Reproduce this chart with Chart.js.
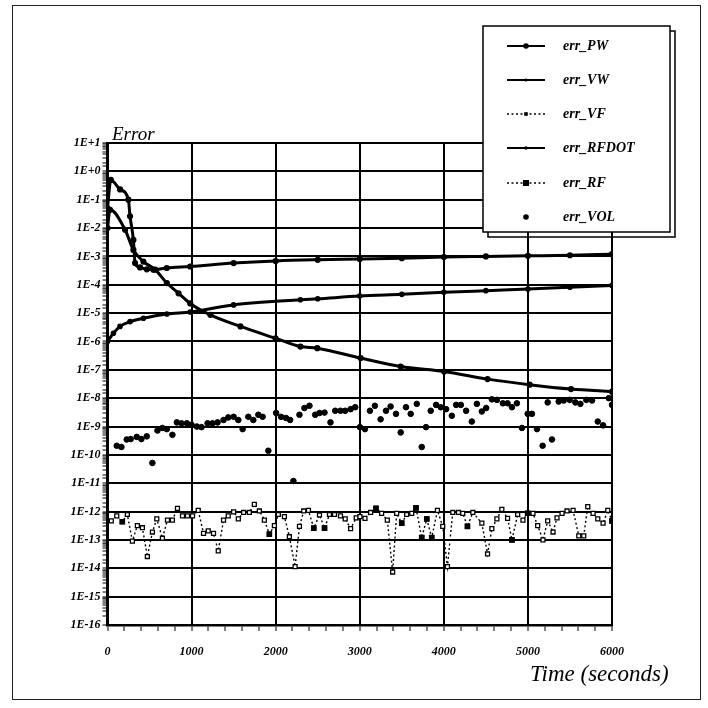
<!DOCTYPE html>
<html>
<head>
<meta charset="utf-8">
<script src="https://cdn.jsdelivr.net/npm/chart.js@4.4.0/dist/chart.umd.min.js"></script>
<style>
  html, body { margin: 0; padding: 0; background: #fff; }
  canvas { display: block; }
</style>
</head>
<body>
<canvas id="err-chart" width="708" height="708"></canvas>
<script>
// position error in the wall frame
const pwTime = [0, 40, 150, 248, 268, 308, 328, 387, 467, 546, 705, 983, 1500, 2000, 2500, 3000, 3500, 4000, 4500, 5000, 5500, 6000];
const pwErr = [5e-2, 0.5, 0.23, 0.1, 2.6e-2, 3.8e-3, 5.8e-4, 4.1e-4, 3.5e-4, 3.4e-4, 3.9e-4, 4.4e-4, 5.8e-4, 6.9e-4, 7.6e-4, 8.1e-4, 8.7e-4, 9.5e-4, 1.0e-3, 1.05e-3, 1.1e-3, 1.2e-3];

// velocity error in the wall frame
const vwTime = [0, 70, 149, 268, 427, 706, 984, 1500, 2294, 2500, 3000, 3500, 4000, 4500, 5000, 5500, 6000];
const vwErr = [1.0e-6, 1.95e-6, 3.4e-6, 5.0e-6, 6.6e-6, 9.3e-6, 1.1e-5, 1.95e-5, 2.95e-5, 3.2e-5, 4.0e-5, 4.6e-5, 5.4e-5, 6.2e-5, 7.1e-5, 8.2e-5, 9.5e-5];

// RF rate error
const rfdotTime = [0, 30, 209, 308, 427, 567, 706, 845, 984, 1223, 1581, 1998, 2294, 2495, 3010, 3487, 4003, 4520, 5020, 5513, 6000];
const rfdotErr = [1e-2, 4.4e-2, 8.7e-3, 1.7e-3, 6.6e-4, 3.4e-4, 1.15e-4, 5.0e-5, 2.2e-5, 8.7e-6, 3.4e-6, 1.3e-6, 6.6e-7, 5.8e-7, 2.6e-7, 1.3e-7, 8.7e-8, 4.7e-8, 3.0e-8, 2.1e-8, 1.7e-8];

// volume error samples
const volTime = [
  110, 165, 229, 276, 348, 403, 467, 534, 594, 653,
  705, 772, 825, 880, 944, 999, 1063, 1118, 1190, 1249,
  1309, 1380, 1436, 1500, 1556, 1607, 1675, 1734, 1794, 1845,
  1913, 2005, 2064, 2124, 2172, 2211, 2283, 2342, 2402, 2470,
  2521, 2581, 2652, 2708, 2771, 2827, 2891, 2946, 3002, 3062,
  3121, 3180, 3248, 3312, 3367, 3431, 3487, 3550, 3606, 3678,
  3737, 3788, 3844, 3908, 3963, 4027, 4095, 4146, 4202, 4265,
  4333, 4393, 4452, 4504, 4571, 4631, 4702, 4758, 4810, 4869,
  4929, 4997, 5048, 5108, 5175, 5235, 5286, 5366, 5426, 5497,
  5564, 5624, 5695, 5763, 5831, 5894, 5962, 6000
];
const volErr = [
  2.1e-10, 1.9e-10, 3.5e-10, 3.6e-10, 4.3e-10, 3.6e-10, 4.5e-10, 5.2e-11, 7.2e-10, 8.9e-10,
  8.1e-10, 5.1e-10, 1.4e-9, 1.3e-9, 1.3e-9, 1.15e-9, 1.0e-9, 9.5e-10, 1.3e-9, 1.3e-9,
  1.4e-9, 1.7e-9, 2.1e-9, 2.2e-9, 1.7e-9, 8.1e-10, 2.2e-9, 1.7e-9, 2.6e-9, 2.2e-9,
  1.4e-10, 3.0e-9, 2.2e-9, 2.0e-9, 1.7e-9, 1.2e-11, 2.6e-9, 4.5e-9, 5.4e-9, 2.6e-9,
  3.0e-9, 3.1e-9, 1.4e-9, 3.6e-9, 3.6e-9, 3.6e-9, 4.1e-9, 4.8e-9, 9.5e-10, 8.1e-10,
  3.6e-9, 5.4e-9, 1.8e-9, 3.6e-9, 5.1e-9, 2.8e-9, 6.2e-10, 4.8e-9, 2.8e-9, 6.3e-9,
  1.9e-10, 9.5e-10, 3.6e-9, 5.8e-9, 4.8e-9, 4.1e-9, 2.4e-9, 5.8e-9, 5.8e-9, 3.6e-9,
  1.5e-9, 6.3e-9, 3.4e-9, 4.5e-9, 9.1e-9, 8.7e-9, 6.6e-9, 6.6e-9, 4.8e-9, 6.6e-9,
  8.9e-10, 2.8e-9, 2.8e-9, 8.1e-10, 2.1e-10, 7.1e-9, 3.5e-10, 7.6e-9, 8.3e-9, 8.7e-9,
  7.1e-9, 6.3e-9, 8.7e-9, 8.3e-9, 1.5e-9, 1.1e-9, 1.0e-8, 5.8e-9
];

// fluid velocity error samples
const vfTime = [
  45, 110, 176, 236, 296, 355, 415, 474, 534, 586,
  653, 713, 772, 832, 892, 951, 1011, 1079, 1142, 1198,
  1261, 1317, 1380, 1436, 1500, 1556, 1619, 1687, 1746, 1806,
  1866, 1925, 1985, 2032, 2104, 2163, 2231, 2283, 2334, 2390,
  2453, 2521, 2581, 2640, 2700, 2771, 2827, 2891, 2958, 3002,
  3062, 3129, 3193, 3260, 3328, 3391, 3439, 3499, 3558, 3618,
  3669, 3737, 3797, 3856, 3924, 3987, 4043, 4106, 4174, 4225,
  4281, 4345, 4452, 4520, 4571, 4631, 4690, 4758, 4810, 4878,
  4941, 4997, 5060, 5116, 5179, 5235, 5299, 5346, 5406, 5465,
  5537, 5605, 5664, 5712, 5775, 5831, 5894, 5950, 6000
];
const vfErr = [
  4.7e-13, 7.1e-13, 4.4e-13, 7.9e-13, 9.1e-14, 3.2e-13, 2.7e-13, 2.6e-14, 1.9e-13, 5.5e-13,
  1.15e-13, 5.0e-13, 5.0e-13, 1.3e-12, 7.1e-13, 7.1e-13, 7.1e-13, 1.1e-12, 1.7e-13, 2.1e-13,
  1.7e-13, 4.1e-14, 5.0e-13, 7.1e-13, 9.8e-13, 5.5e-13, 9.3e-13, 9.3e-13, 1.8e-12, 1.05e-12,
  5.0e-13, 1.6e-13, 3.2e-13, 7.9e-13, 6.6e-13, 1.3e-13, 1.15e-14, 3.0e-13, 1.05e-12, 1.1e-12,
  2.6e-13, 7.6e-13, 2.6e-13, 7.9e-13, 7.9e-13, 7.1e-13, 5.5e-13, 2.5e-13, 6.0e-13, 6.6e-13,
  5.8e-13, 9.3e-13, 1.3e-12, 8.7e-13, 5.0e-13, 7.4e-15, 8.7e-13, 3.9e-13, 7.9e-13, 8.7e-13,
  1.35e-12, 1.2e-13, 5.5e-13, 1.2e-13, 1.1e-12, 3.0e-13, 1.15e-14, 9.3e-13, 9.3e-13, 8.7e-13,
  3.0e-13, 9.3e-13, 3.9e-13, 3.2e-14, 2.5e-13, 5.5e-13, 1.2e-12, 5.8e-13, 1.0e-13, 7.9e-13,
  5.0e-13, 8.7e-13, 8.7e-13, 3.2e-13, 1.0e-13, 4.7e-13, 1.9e-13, 6.0e-13, 8.7e-13, 1.05e-12,
  1.1e-12, 1.4e-13, 1.4e-13, 1.5e-12, 8.7e-13, 5.5e-13, 3.9e-13, 1.1e-12, 4.7e-13
];

// fluid position error samples
const rfTime = [176, 1925, 2453, 2581, 3193, 3499, 3669, 3737, 3797, 3856, 4281, 4810, 4997, 6000];
const rfErr = [4.4e-13, 1.6e-13, 2.6e-13, 2.6e-13, 1.3e-12, 3.9e-13, 1.35e-12, 1.2e-13, 5.5e-13, 1.2e-13, 3.0e-13, 1.0e-13, 8.7e-13, 4.7e-13];

const xTicks = [0, 1000, 2000, 3000, 4000, 5000, 6000];

const tickFont = { family: 'Liberation Serif', style: 'italic', weight: 'bold', size: 12 };

function pairs(ts, vs) {
    return ts.map((t, i) => ({ x: t, y: vs[i] }));
}

function isDecade(v) {
    const e = Math.log10(v);
    return Math.abs(e - Math.round(e)) < 1e-6;
}

const series = {
    PW: { label: 'err_PW', data: pairs(pwTime, pwErr), borderColor: '#000', backgroundColor: '#000',
          borderWidth: 3, pointRadius: 1.6, cubicInterpolationMode: 'monotone' },
    VW: { label: 'err_VW', data: pairs(vwTime, vwErr), borderColor: '#000', backgroundColor: '#000',
          borderWidth: 3, pointRadius: 1.3, cubicInterpolationMode: 'monotone' },
    VF: { label: 'err_VF', data: pairs(vfTime, vfErr), borderColor: '#000', backgroundColor: '#fff',
          borderWidth: 1.4, borderDash: [2, 2.5], pointStyle: 'rect', pointRadius: 2.8,
          pointBorderWidth: 1.3, pointBorderColor: '#000', pointBackgroundColor: '#fff' },
    RFDOT: { label: 'err_RFDOT', data: pairs(rfdotTime, rfdotErr), borderColor: '#000', backgroundColor: '#000',
          borderWidth: 3, pointRadius: 1.6, cubicInterpolationMode: 'monotone' },
    RF: { label: 'err_RF', data: pairs(rfTime, rfErr), borderColor: '#000', backgroundColor: '#000',
          borderWidth: 1.4, borderDash: [2, 2.5], showLine: false, pointStyle: 'rect', pointRadius: 3 },
    VOL: { label: 'err_VOL', data: pairs(volTime, volErr), borderColor: '#000', backgroundColor: '#000',
          showLine: false, pointRadius: 2.8 }
};

const legendOrder = ['PW', 'VW', 'VF', 'RFDOT', 'RF', 'VOL'];

// frame, axis captions and the key box
const decorations = {
    id: 'decorations',
    afterDraw(chart) {
        const ctx = chart.ctx;
        ctx.save();

        ctx.strokeStyle = '#222';
        ctx.lineWidth = 1;
        ctx.strokeRect(12.5, 5.5, 688, 694);

        ctx.fillStyle = '#000';
        ctx.textBaseline = 'alphabetic';
        ctx.textAlign = 'left';
        ctx.font = 'italic 19px "Liberation Serif"';
        ctx.fillText('Error', 112, 140);
        ctx.font = 'italic 23px "Liberation Serif"';
        ctx.fillText('Time (seconds)', 530, 681);

        // key box with its offset shadow
        const bx = 483, by = 26, bw = 187, bh = 206;
        ctx.lineWidth = 1.5;
        ctx.strokeStyle = '#000';
        ctx.strokeRect(bx + 5, by + 5, bw, bh);
        ctx.fillStyle = '#fff';
        ctx.fillRect(bx, by, bw, bh);
        ctx.strokeRect(bx, by, bw, bh);

        const rowY = [46, 80, 114, 148, 183, 217];
        const markR = { PW: 2.8, VW: 1.6, VF: 1.8, RFDOT: 1.8, RF: 3, VOL: 2.8 };
        legendOrder.forEach((key, i) => {
            const s = series[key];
            const y = rowY[i];
            ctx.strokeStyle = '#000';
            if (key !== 'VOL') {
                ctx.lineWidth = s.borderDash ? 1.4 : 2;
                ctx.setLineDash(s.borderDash || []);
                ctx.beginPath();
                ctx.moveTo(507, y);
                ctx.lineTo(545, y);
                ctx.stroke();
                ctx.setLineDash([]);
            }
            const r = markR[key];
            ctx.fillStyle = '#000';
            if (s.pointStyle === 'rect') {
                ctx.fillRect(526 - r, y - r, 2 * r, 2 * r);
            } else {
                ctx.beginPath();
                ctx.arc(526, y, r, 0, Math.PI * 2);
                ctx.fill();
            }
            ctx.font = 'italic bold 14px "Liberation Serif"';
            ctx.textBaseline = 'middle';
            ctx.fillText(s.label, 563, y);
        });

        ctx.restore();
    }
};

const ctx = document.getElementById('err-chart').getContext('2d');
const chart = new Chart(ctx, {
    type: 'line',
    data: {
        datasets: [series.PW, series.VW, series.RFDOT, series.VOL, series.RF, series.VF]
    },
    options: {
        responsive: false,
        animation: false,
        layout: { padding: { left: 0, right: 96, top: 143, bottom: 0 } },
        plugins: {
            legend: { display: false },
            tooltip: { enabled: false }
        },
        scales: {
            x: {
                type: 'linear',
                min: 0,
                max: 6000,
                ticks: {
                    stepSize: 200,
                    autoSkip: false,
                    maxRotation: 0,
                    padding: 14,
                    color: '#000',
                    font: tickFont,
                    callback: v => xTicks.includes(v) ? String(v) : ''
                },
                grid: {
                    color: c => (c.tick && xTicks.includes(c.tick.value)) ? '#000' : 'rgba(0,0,0,0)',
                    lineWidth: 2,
                    tickColor: '#000',
                    tickWidth: 1,
                    tickLength: 6
                },
                border: { color: '#000', width: 2.5 },
                afterFit: s => { s.height = 83; }
            },
            y: {
                type: 'logarithmic',
                min: 1e-16,
                max: 10,
                ticks: {
                    autoSkip: false,
                    padding: 2,
                    color: '#000',
                    font: tickFont,
                    callback: v => {
                        if (!isDecade(v)) return '';
                        const e = Math.round(Math.log10(v));
                        return e >= 0 ? '1E+' + e : '1E' + e;
                    }
                },
                grid: {
                    color: c => (c.tick && isDecade(c.tick.value)) ? '#000' : 'rgba(0,0,0,0)',
                    lineWidth: 2,
                    tickColor: '#000',
                    tickWidth: 1,
                    tickLength: 5
                },
                border: { color: '#000', width: 3 },
                afterFit: s => { s.width = 107.5; }
            }
        }
    },
    plugins: [decorations]
});
</script>
</body>
</html>
